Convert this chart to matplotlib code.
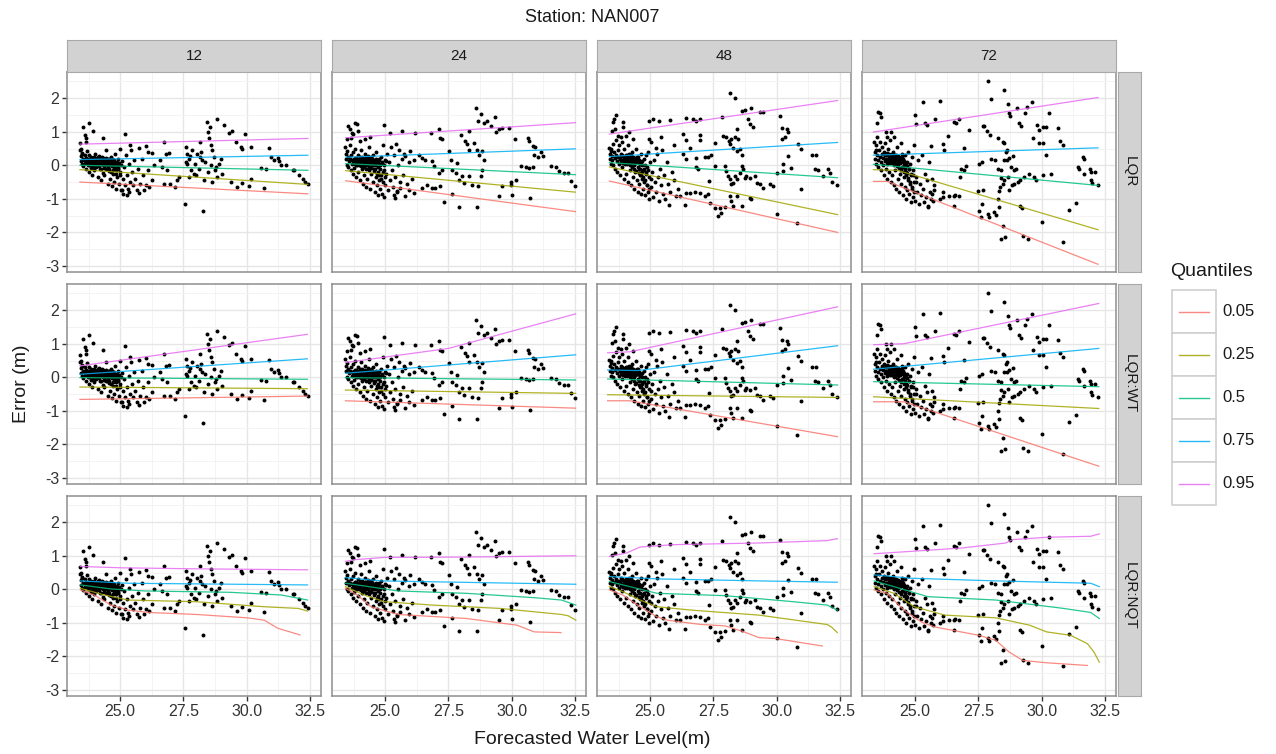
import numpy as np
import matplotlib
matplotlib.use("Agg")
import matplotlib.pyplot as plt
from matplotlib.patches import Rectangle
from matplotlib.ticker import MultipleLocator

plt.rcParams['font.family'] = ['Liberation Sans', 'DejaVu Sans']

# ---------------------------------------------------------------- data
station = "NAN007"
leads = [12, 24, 48, 72]
models = ["LQR", "LQR:WT", "LQR:NQT"]
quantiles = ["0.05", "0.25", "0.5", "0.75", "0.95"]
quantile_colors = ["#F8766D", "#A3A500", "#00BF7D", "#00B0F6", "#E76BF3"]
x_ticks = [25.0, 27.5, 30.0, 32.5]
y_ticks = [-3, -2, -1, 0, 1, 2]

# (forecasted water level, forecast error) for each lead time
points_12 = [
    (23.42, 0.45), (23.44, 0.28), (23.46, 0.12), (23.48, 0.05), (23.5, 0.36), (23.52, 0.2), (23.55, -0.02),
    (23.57, 0.15), (23.6, 0.3), (23.62, 0.08), (23.64, -0.1), (23.66, 0.22), (23.68, 0.42), (23.7, 0.12),
    (23.72, 0.0), (23.74, 0.18), (23.76, -0.2), (23.78, 0.3), (23.8, 0.06), (23.82, 0.15), (23.84, -0.08),
    (23.86, 0.25), (23.88, 0.1), (23.9, -0.3), (23.92, 0.02), (23.94, 0.2), (23.96, 0.12), (23.98, -0.15),
    (24.0, 0.35), (24.02, 0.05), (24.04, 0.16), (24.06, -0.05), (24.08, 0.22), (24.1, 0.1), (24.12, -0.35),
    (24.14, 0.0), (24.16, 0.14), (24.18, 0.28), (24.2, -0.12), (24.22, 0.08), (24.24, 0.18), (24.26, -0.45),
    (24.28, 0.04), (24.3, 0.12), (24.32, -0.22), (24.34, 0.22), (24.36, 0.06), (24.38, -0.3), (24.4, 0.15),
    (24.42, 0.0), (24.44, 0.45), (24.46, -0.1), (24.48, 0.1), (24.5, -0.55), (24.52, 0.2), (24.54, 0.04),
    (24.56, -0.18), (24.58, 0.12), (24.6, -0.4), (24.62, 0.26), (24.64, 0.0), (24.66, -0.62), (24.68, 0.1),
    (24.7, -0.25), (24.72, 0.16), (24.74, -0.05), (24.76, -0.5), (24.78, 0.05), (24.8, 0.35), (24.82, -0.15),
    (24.84, -0.7), (24.86, 0.1), (24.88, -0.35), (24.9, 0.2), (24.92, -0.08), (24.94, -0.55), (24.96, 0.0),
    (24.98, 0.5), (25.0, -0.2), (25.03, -0.75), (25.06, 0.12), (25.1, -0.4), (25.14, -0.05), (25.18, -0.6),
    (25.22, 0.3), (25.26, -0.3), (25.3, -0.7), (25.34, 0.05), (25.38, -0.5), (25.42, 0.45), (25.46, -0.2),
    (25.5, -0.6), (25.55, 0.15), (25.6, -0.4), (25.65, -0.75), (25.7, -0.1), (25.78, -0.55), (25.85, 0.2),
    (25.92, -0.3), (26.0, -0.6), (26.1, -0.15), (26.25, -0.45), (26.35, 0.0),
    (23.71, 0.05), (23.73, 0.14), (23.77, 0.02), (23.79, 0.2), (23.83, 0.08), (23.87, -0.04), (23.91, 0.16),
    (23.93, 0.06), (23.97, 0.24), (24.01, -0.06), (24.03, 0.12), (24.07, 0.02), (24.09, 0.18), (24.11, 0.08),
    (24.13, 0.26), (24.17, -0.02), (24.19, 0.1), (24.21, 0.2), (24.23, -0.1), (24.25, 0.06), (24.27, 0.14),
    (24.29, 0.24), (24.31, 0.0), (24.33, 0.1), (24.35, -0.08), (24.37, 0.18), (24.39, 0.04), (24.41, 0.12),
    (24.43, -0.12), (24.45, 0.22), (24.47, 0.02), (24.49, 0.14), (24.51, -0.04), (24.53, 0.08), (24.55, 0.18),
    (24.57, -0.1), (24.59, 0.04), (24.61, 0.14), (24.63, -0.2), (24.65, 0.08), (24.67, 0.2), (24.69, -0.02),
    (24.71, 0.1), (24.73, -0.15), (24.75, 0.04), (24.77, 0.16), (24.79, -0.08), (24.81, 0.08), (24.83, -0.25),
    (24.87, 0.0), (24.91, -0.12), (24.95, 0.08), (24.99, -0.3), (25.02, 0.02),
    (23.55, 1.15), (23.78, 1.27), (23.92, 1.03), (23.6, 0.9), (23.67, 0.8), (23.65, 0.7), (24.34, 0.82),
    (25.2, 0.92), (23.41, 0.67), (23.44, 0.5), (23.48, 0.35), (25.13, -0.85), (25.26, -0.9), (25.33, -0.8),
    (25.07, -0.75), (25.73, -0.83), (25.93, -0.75), (26.12, -0.65), (25.4, 0.6), (25.73, 0.53), (26.03, 0.57),
    (26.08, 0.4), (26.26, 0.37), (26.59, 0.15), (26.75, 0.7), (26.79, 0.35), (26.92, 0.37), (26.65, -0.05),
    (26.85, -0.15), (26.72, -0.55), (26.98, -0.55), (27.18, -0.65), (27.25, -0.45), (27.31, -0.35),
    (27.54, -1.15), (27.58, 0.55), (27.62, 0.35), (27.71, 0.2), (27.65, 0.05), (27.78, -0.15), (27.84, 0.45),
    (27.91, -0.25), (28.04, 0.35), (28.17, 0.7), (28.24, 0.15), (28.31, -0.45), (28.28, -1.37), (28.41, 1.3),
    (28.47, 1.0), (28.5, 0.8), (28.54, 1.15), (28.57, 0.6), (28.64, 0.45), (28.7, 0.25), (28.73, -0.15),
    (28.77, -0.05), (28.84, 1.37), (28.9, 0.05), (28.97, 0.2), (29.1, 1.2), (28.64, -0.5), (28.84, -0.35),
    (29.03, -0.25), (29.3, 0.95), (29.43, 1.02), (29.56, 0.7), (29.76, 0.55), (29.83, 0.5), (29.93, 0.93),
    (29.39, -0.5), (29.63, -0.65), (29.83, -0.53), (30.09, -0.63), (30.16, 0.55), (30.16, -0.4), (30.56, -0.07),
    (30.69, -0.67), (30.75, -0.1), (30.89, 0.53), (30.95, 0.25), (31.08, 0.17), (31.22, 0.23), (31.28, 0.13),
    (31.35, 0.0), (31.55, 0.0), (31.81, -0.15), (31.88, -0.15), (32.08, -0.3), (32.21, -0.4), (32.31, -0.5),
    (32.41, -0.55), (27.6, 0.1), (27.75, 0.28), (27.95, 0.05), (28.1, -0.1), (28.2, 0.4), (28.35, 0.1),
    (28.0, -0.3), (27.7, -0.35), (28.45, -0.2), (28.6, 0.0), (28.15, 0.25),
]

points_24 = [
    (23.42, 0.55), (23.44, 0.35), (23.46, 0.18), (23.48, 0.02), (23.5, 0.42), (23.52, 0.25), (23.55, -0.05),
    (23.57, 0.12), (23.6, 0.6), (23.62, 0.2), (23.64, -0.15), (23.66, 0.3), (23.68, 0.05), (23.7, 0.15),
    (23.72, -0.25), (23.74, 0.4), (23.76, 0.1), (23.78, -0.08), (23.8, 0.22), (23.82, 0.5), (23.84, 0.0),
    (23.86, -0.35), (23.88, 0.18), (23.9, 0.08), (23.92, 0.3), (23.94, -0.2), (23.96, 0.12), (23.98, 0.02),
    (24.0, -0.45), (24.02, 0.25), (24.04, 0.1), (24.06, 0.45), (24.08, -0.1), (24.1, 0.18), (24.12, -0.55),
    (24.14, 0.05), (24.16, 0.2), (24.18, -0.3), (24.2, 0.12), (24.22, 0.35), (24.24, -0.65), (24.26, 0.0),
    (24.28, 0.15), (24.3, -0.4), (24.32, 0.22), (24.34, 0.08), (24.36, -0.15), (24.38, 0.55), (24.4, -0.7),
    (24.42, 0.12), (24.44, -0.25), (24.46, 0.2), (24.48, 0.02), (24.5, -0.5), (24.52, 0.3), (24.54, -0.1),
    (24.56, 0.14), (24.58, -0.8), (24.6, 0.05), (24.62, -0.35), (24.64, 0.4), (24.66, -0.6), (24.68, 0.1),
    (24.7, -0.2), (24.72, -0.9), (24.74, 0.2), (24.76, -0.45), (24.78, 0.0), (24.8, -0.7), (24.82, 0.25),
    (24.84, -0.3), (24.86, -0.85), (24.88, 0.08), (24.9, -0.5), (24.92, 0.6), (24.94, -0.15), (24.96, -0.95),
    (24.98, 0.15), (25.0, -0.6), (25.03, -0.25), (25.06, 0.35), (25.1, -0.75), (25.14, 0.1), (25.18, -0.45),
    (25.22, 0.55), (25.26, -0.15), (25.3, -0.65), (25.34, 0.3), (25.38, -0.35), (25.42, 0.62), (25.46, -0.8),
    (25.5, 0.0), (25.55, 0.45), (25.6, -0.5), (25.65, 0.2), (25.7, -0.3), (25.75, 0.35), (25.85, -0.55),
    (25.95, 0.1), (26.05, -0.4),
    (23.71, 0.08), (23.75, 0.18), (23.79, 0.04), (23.81, 0.12), (23.85, 0.22), (23.89, 0.0), (23.91, 0.14),
    (23.95, 0.06), (23.99, 0.2), (24.01, 0.1), (24.05, -0.02), (24.07, 0.16), (24.09, 0.26), (24.11, 0.06),
    (24.15, 0.12), (24.17, -0.06), (24.19, 0.22), (24.21, 0.04), (24.23, 0.14), (24.25, -0.12), (24.27, 0.08),
    (24.29, 0.18), (24.31, 0.02), (24.33, 0.28), (24.35, 0.1), (24.37, -0.04), (24.39, 0.16), (24.41, 0.06),
    (24.43, 0.24), (24.45, -0.08), (24.47, 0.12), (24.49, 0.2), (24.51, 0.0), (24.53, 0.1), (24.55, -0.18),
    (24.57, 0.16), (24.59, 0.06), (24.61, -0.1), (24.63, 0.2), (24.65, 0.02), (24.67, -0.25), (24.69, 0.12),
    (24.71, -0.05), (24.73, 0.08), (24.75, -0.3), (24.77, 0.15), (24.79, -0.12), (24.81, 0.04),
    (24.85, -0.4), (24.89, 0.1), (24.93, -0.2), (24.97, 0.02), (25.01, -0.35), (25.04, 0.12),
    (23.55, 1.17), (23.61, 1.07), (23.81, 1.27), (23.88, 1.22), (23.68, 0.97), (23.74, 0.92), (23.94, 1.02),
    (23.65, 0.82), (23.48, 0.77), (24.01, 0.72), (24.21, 0.77), (24.4, 0.84), (24.97, 1.19), (25.2, 0.95),
    (25.66, 1.02), (26.19, 0.97), (26.79, 0.97), (27.12, 1.09), (27.18, 0.82), (27.25, 0.77), (27.98, 0.9),
    (28.31, 1.02), (28.57, 1.72), (28.77, 1.52), (28.68, 1.32), (28.9, 1.27), (29.03, 1.32), (29.17, 1.17),
    (29.34, 1.44), (29.37, 0.99), (29.5, 1.07), (29.63, 1.12), (29.89, 1.12), (28.17, 0.72), (28.24, 0.62),
    (28.31, 0.47), (28.5, 0.67), (28.64, 0.47), (28.7, 0.32), (28.84, 0.42), (28.9, 0.17), (28.84, -0.13),
    (28.77, -0.33), (28.68, -0.63), (28.64, -1.23), (30.13, 0.77), (30.62, 0.82), (30.69, 0.72), (30.82, 0.57),
    (30.93, 0.54), (30.89, 0.32), (31.02, 0.25), (31.16, 0.39), (31.22, 0.29), (30.36, -0.03), (30.56, -0.05),
    (30.69, -0.08), (30.82, -0.06), (31.55, -0.03), (31.75, -0.05), (31.88, -0.18), (32.08, -0.23),
    (32.21, -0.23), (32.34, -0.48), (32.51, -0.61), (29.97, -0.51), (30.16, -0.43), (29.96, -0.58),
    (29.63, -0.63), (29.5, -0.93), (29.99, -0.88), (30.73, -0.98), (27.91, -1.23), (27.31, -1.1),
    (27.62, -0.86), (25.79, 0.27), (25.99, 0.42), (26.12, 0.17), (26.32, 0.32), (26.46, 0.22), (26.59, 0.15),
    (26.85, 0.12), (26.92, -0.03), (27.12, -0.23), (27.25, -0.13), (27.51, 0.42), (27.58, 0.17),
    (27.65, -0.13), (27.78, -0.23), (27.84, 0.07), (27.91, -0.43), (28.04, -0.33), (28.11, -0.53),
    (28.31, -0.33), (28.44, -0.58), (25.93, -0.73), (26.12, -0.83), (26.46, -0.68), (26.65, -0.58),
    (26.85, -0.68), (26.98, -0.68), (27.18, -0.63), (25.79, -0.91), (25.4, -0.98), (25.33, -0.88),
    (25.46, -0.78), (25.6, -0.68),
]

points_48 = [
    (23.4, 0.35), (23.42, 0.2), (23.44, 0.5), (23.46, 0.05), (23.48, 0.28), (23.5, 0.15), (23.52, 0.62),
    (23.55, 0.0), (23.57, 0.4), (23.6, 0.22), (23.62, -0.1), (23.64, 0.3), (23.66, 0.75), (23.68, 0.12),
    (23.7, -0.2), (23.72, 0.45), (23.74, 0.25), (23.76, 0.05), (23.78, 0.6), (23.8, 0.18), (23.82, -0.3),
    (23.84, 0.35), (23.86, 0.1), (23.88, 0.7), (23.9, -0.05), (23.92, 0.28), (23.94, 0.15), (23.96, -0.4),
    (23.98, 0.5), (24.0, 0.2), (24.02, 0.05), (24.04, 0.32), (24.06, -0.25), (24.08, 0.22), (24.1, 0.12),
    (24.12, 0.6), (24.14, -0.5), (24.16, 0.25), (24.18, 0.1), (24.2, -0.15), (24.22, 0.3), (24.24, 0.18),
    (24.26, -0.6), (24.28, 0.08), (24.3, 0.4), (24.32, -0.35), (24.34, 0.2), (24.36, 0.0), (24.38, -0.7),
    (24.4, 0.15), (24.42, -0.2), (24.44, 0.5), (24.46, -0.45), (24.48, 0.1), (24.5, -0.8), (24.52, 0.25),
    (24.54, -0.1), (24.56, -0.55), (24.58, 0.05), (24.6, -0.3), (24.62, 0.35), (24.64, -0.85), (24.66, 0.12),
    (24.68, -0.4), (24.7, -0.15), (24.72, -0.7), (24.74, 0.2), (24.76, -0.5), (24.78, 0.0), (24.8, -0.9),
    (24.82, -0.25), (24.84, 0.3), (24.86, -0.6), (24.88, -0.05), (24.9, -0.8), (24.92, 0.4), (24.94, -0.35),
    (24.96, -1.0), (24.98, 0.1), (25.02, -0.65), (25.06, -0.2), (25.1, -0.95), (25.14, 0.15), (25.18, -0.5),
    (25.22, -0.8), (25.26, 0.35), (25.3, -0.35), (25.34, -1.05), (25.38, -0.1), (25.42, -0.6), (25.46, 0.45),
    (25.5, -0.85), (25.55, -0.3), (25.6, -1.0), (25.65, 0.1), (25.7, -0.55), (25.78, -0.8), (25.85, -0.2),
    (25.95, -0.45),
    (23.81, 0.26), (23.85, 0.16), (23.89, 0.3), (23.93, 0.08), (23.97, 0.22), (24.01, 0.12), (24.03, 0.28),
    (24.05, 0.18), (24.07, 0.04), (24.09, 0.3), (24.11, 0.2), (24.13, 0.1), (24.15, 0.34), (24.17, 0.16),
    (24.19, 0.02), (24.21, 0.24), (24.23, 0.12), (24.25, 0.3), (24.27, -0.04), (24.29, 0.18), (24.31, 0.08),
    (24.33, 0.26), (24.35, 0.14), (24.37, -0.1), (24.39, 0.22), (24.41, 0.06), (24.43, 0.18), (24.45, -0.16),
    (24.47, 0.1), (24.49, 0.24), (24.51, -0.06), (24.53, 0.12), (24.55, -0.22), (24.57, 0.16), (24.59, -0.12),
    (24.61, 0.04), (24.63, -0.3), (24.65, 0.1), (24.67, -0.2), (24.69, 0.0), (24.73, -0.35), (24.77, -0.1),
    (24.81, -0.45), (24.85, -0.2), (24.89, -0.6), (24.93, -0.15), (24.97, -0.7), (25.04, -0.4),
    (23.52, 1.28), (23.65, 1.5), (23.59, 1.38), (23.49, 1.03), (23.63, 1.08), (23.92, 1.28), (23.92, 1.13),
    (23.72, 0.88), (23.85, 0.83), (24.05, 0.88), (24.18, 0.98), (24.31, 0.78), (23.39, 0.53), (23.45, 0.43),
    (24.97, 1.33), (25.11, 1.38), (25.34, 1.33), (25.77, 1.36), (26.43, 1.4), (26.69, 1.38), (26.82, 1.33),
    (26.96, 1.38), (24.97, 0.78), (25.04, 0.68), (25.24, 0.53), (25.44, 0.83), (25.96, 0.6), (26.29, 0.93),
    (26.43, 0.75), (26.96, 0.9), (26.98, 0.75), (26.56, 0.53), (26.28, 0.33), (26.43, 0.2), (26.8, 0.23),
    (27.15, 0.26), (27.29, 0.26), (27.42, 0.3), (27.55, 0.66), (26.82, -0.05), (26.88, -0.12), (27.32, -0.47),
    (27.55, -0.02), (27.85, 1.45), (28.14, 2.16), (28.34, 2.0), (28.61, 1.63), (28.74, 1.66), (29.0, 1.7),
    (28.87, 1.38), (28.94, 1.23), (29.07, 1.13), (29.33, 1.58), (29.47, 1.58), (27.88, 0.88), (28.01, 0.83),
    (28.12, 0.73), (28.21, 0.78), (28.34, 0.83), (28.41, 1.08), (28.47, 0.78), (28.14, 0.63), (28.28, 0.53),
    (28.54, 0.48), (28.61, 0.3), (28.41, 0.43), (27.95, -0.02), (28.01, -0.17), (28.08, -0.32), (28.14, -0.42),
    (28.21, -0.57), (28.28, -0.52), (28.34, -0.32), (28.41, -0.42), (28.54, -0.22), (28.61, -0.02),
    (28.67, -0.12), (28.74, -0.37), (28.8, -0.32), (28.94, -0.37), (29.13, -0.32), (29.2, -0.52),
    (29.33, -0.57), (29.47, -0.67), (29.73, -0.57), (29.86, -0.62), (28.14, -0.92), (28.21, -1.07),
    (28.28, -1.22), (28.41, -0.92), (28.94, -0.97), (29.0, -1.0), (28.61, -1.22), (27.75, -1.27),
    (27.69, -1.52), (27.81, -1.42), (27.95, -1.24), (27.35, -1.12), (27.55, -1.27), (26.1, -0.7),
    (26.16, -0.92), (26.03, -0.92), (26.43, -0.84), (26.56, -0.82), (26.76, -0.8), (26.96, -0.82),
    (27.15, -0.92), (27.29, -0.87), (26.36, -1.17), (25.73, -1.17), (30.13, 1.48), (30.2, 1.1), (30.39, 1.08),
    (30.46, 1.0), (30.2, 0.78), (30.33, 0.83), (30.85, 0.63), (30.94, 0.48), (30.46, 0.28), (30.26, 0.03),
    (30.56, -0.07), (30.26, -0.17), (30.0, -0.24), (30.0, -1.45), (30.81, -1.72), (30.94, -0.72), (31.38, 0.3),
    (31.55, 0.3), (31.51, -0.12), (31.64, -0.15), (31.84, -0.32), (32.04, -0.12), (32.11, -0.22),
    (32.17, -0.5), (32.37, -0.6),
]

points_72 = [
    (23.4, 0.4), (23.42, 0.2), (23.44, 0.6), (23.46, 0.05), (23.48, 0.3), (23.5, 0.85), (23.52, 0.15),
    (23.55, -0.05), (23.57, 0.45), (23.6, 0.25), (23.62, 0.7), (23.64, 0.1), (23.66, -0.15), (23.68, 0.35),
    (23.7, 0.55), (23.72, 0.0), (23.74, 0.22), (23.76, -0.3), (23.78, 0.4), (23.8, 0.12), (23.82, 0.65),
    (23.84, -0.1), (23.86, 0.3), (23.88, 0.05), (23.9, -0.4), (23.92, 0.5), (23.94, 0.18), (23.96, -0.2),
    (23.98, 0.35), (24.0, 0.08), (24.02, 0.75), (24.04, -0.5), (24.06, 0.25), (24.08, 0.1), (24.1, -0.3),
    (24.12, 0.4), (24.14, 0.15), (24.16, -0.6), (24.18, 0.0), (24.2, 0.3), (24.22, -0.15), (24.24, 0.2),
    (24.26, -0.7), (24.28, 0.1), (24.3, 0.55), (24.32, -0.4), (24.34, 0.05), (24.36, -0.8), (24.38, 0.25),
    (24.4, -0.25), (24.42, 0.15), (24.44, -0.55), (24.46, 0.35), (24.48, -0.05), (24.5, -0.9), (24.52, 0.2),
    (24.54, -0.35), (24.56, 0.0), (24.58, -0.65), (24.6, 0.3), (24.62, -1.0), (24.64, -0.2), (24.66, 0.1),
    (24.68, -0.75), (24.7, -0.45), (24.72, 0.4), (24.74, -0.1), (24.76, -0.85), (24.78, 0.05), (24.8, -0.55),
    (24.82, -1.1), (24.84, -0.3), (24.86, 0.25), (24.88, -0.7), (24.9, -0.95), (24.92, -0.15), (24.94, -0.5),
    (24.96, 0.6), (24.98, -1.05), (25.02, -0.35), (25.06, -0.8), (25.1, 0.15), (25.14, -1.15), (25.18, -0.55),
    (25.22, -0.9), (25.26, 0.3), (25.3, -0.7), (25.34, -1.1), (25.38, -0.25), (25.42, -0.95), (25.46, -0.45),
    (25.5, -1.2), (25.55, 0.1), (25.6, -0.8), (25.65, -0.4), (25.7, -1.05), (25.75, -0.6),
    (23.81, 0.3), (23.85, 0.2), (23.89, 0.36), (23.93, 0.12), (23.97, 0.26), (24.01, 0.16), (24.03, 0.32),
    (24.05, 0.22), (24.07, 0.06), (24.09, 0.34), (24.11, 0.24), (24.13, 0.12), (24.15, 0.3), (24.17, 0.18),
    (24.19, 0.04), (24.21, 0.26), (24.23, 0.14), (24.25, 0.32), (24.27, -0.02), (24.29, 0.2), (24.31, 0.1),
    (24.33, 0.28), (24.35, 0.16), (24.37, -0.08), (24.39, 0.22), (24.41, 0.08), (24.43, 0.2), (24.45, -0.14),
    (24.47, 0.12), (24.49, 0.26), (24.51, -0.04), (24.53, 0.1), (24.55, -0.2), (24.57, 0.14), (24.59, -0.1),
    (24.61, 0.02), (24.63, -0.3), (24.65, 0.08), (24.67, -0.22), (24.69, -0.02), (24.73, -0.38),
    (24.77, -0.12), (24.81, -0.5), (24.85, -0.25), (24.89, -0.65), (24.93, -0.3), (24.97, -0.8), (25.04, -0.5),
    (27.86, 2.5), (27.99, 1.97), (28.52, 2.23), (28.65, 1.82), (28.72, 1.57), (28.76, 1.47), (29.01, 1.72),
    (29.35, 1.55), (29.42, 1.75), (29.6, 1.88), (30.3, 1.55), (25.29, 1.88), (25.99, 1.92), (24.99, 1.5),
    (25.03, 1.23), (25.4, 1.27), (25.46, 1.2), (25.79, 1.38), (26.52, 1.28), (26.61, 1.25), (26.74, 1.37),
    (27.14, 1.05), (27.66, 1.17), (27.73, 1.17), (27.84, 1.02), (27.96, 0.9), (28.26, 0.8), (28.46, 0.7),
    (28.52, 0.65), (28.63, 0.45), (28.59, 0.4), (29.08, 1.25), (29.16, 1.17), (29.64, 0.8), (29.82, 1.2),
    (29.88, 1.05), (30.04, 1.15), (30.17, 1.15), (29.9, 0.67), (30.06, 0.67), (30.17, 0.3), (30.63, 1.1),
    (30.7, 0.72), (30.83, 0.6), (23.55, 1.6), (23.61, 1.55), (23.51, 1.25), (23.67, 1.45), (23.84, 1.0),
    (24.04, 1.0), (23.9, 0.85), (23.38, 0.7), (23.44, 0.45), (24.17, 0.85), (24.43, 0.67), (25.62, 0.57),
    (26.08, 0.63), (26.12, 0.45), (26.28, 0.87), (26.94, 0.53), (26.81, -0.12), (26.78, -0.35), (27.01, -0.02),
    (26.94, -0.15), (27.51, 0.03), (27.64, 0.1), (28.0, 0.2), (28.15, 0.15), (28.26, -0.1), (28.39, -0.15),
    (28.52, 0.17), (28.63, 0.17), (28.72, 0.23), (28.85, 0.27), (28.79, -0.05), (28.92, -0.15), (28.98, -0.1),
    (28.39, -0.37), (28.52, -0.45), (28.46, -0.57), (28.36, -0.65), (28.3, -0.77), (28.26, -1.0),
    (28.65, -0.35), (28.72, -0.75), (28.81, -0.6), (28.92, -0.55), (29.05, -0.5), (29.12, -0.45),
    (29.31, -0.35), (29.51, -0.25), (29.71, -0.35), (29.77, -0.45), (30.04, -0.3), (30.37, -0.27),
    (27.49, -0.77), (27.66, -0.73), (27.53, -1.35), (27.6, -1.55), (27.64, -1.15), (27.86, -1.45),
    (27.9, -1.55), (28.13, -1.4), (28.19, -1.48), (28.32, -1.23), (28.46, -1.8), (28.39, -2.2), (28.56, -2.13),
    (29.12, -1.2), (29.21, -1.28), (29.25, -2.12), (29.45, -2.2), (30.0, -1.7), (30.83, -2.3), (31.07, -1.33),
    (31.36, -1.13), (26.54, -0.93), (26.54, -1.2), (26.58, -0.9), (26.74, -0.92), (26.35, -0.93),
    (26.08, -0.95), (25.99, -1.0), (25.62, -1.0), (25.49, -1.25), (25.65, -0.85), (25.75, -0.75),
    (26.08, -0.8), (31.62, 0.25), (31.66, 0.2), (31.42, -0.05), (31.45, -0.12), (31.66, -0.25), (31.89, -0.1),
    (31.93, -0.2), (32.09, -0.2), (31.96, -0.45), (31.98, -0.52), (32.22, -0.6),
]

points_by_lead = {12: points_12, 24: points_24, 48: points_48, 72: points_72}

# Fitted quantile curves: per lead, one polyline per quantile (0.05 ... 0.95)
lqr_curves = {
    12: [[(23.41, -0.50), (32.41, -0.85)], [(23.41, -0.13), (32.41, -0.57)], [(23.41, 0.00), (32.41, -0.15)],
         [(23.41, 0.17), (32.41, 0.30)], [(23.41, 0.63), (32.41, 0.80)]],
    24: [[(23.44, -0.46), (32.51, -1.38)], [(23.44, -0.16), (32.51, -0.80)], [(23.44, 0.05), (32.51, -0.28)],
         [(23.44, 0.24), (32.51, 0.49)], [(23.44, 0.82), (32.51, 1.27)]],
    48: [[(23.39, -0.47), (32.40, -2.00)], [(23.39, -0.05), (32.40, -1.47)], [(23.39, 0.08), (32.40, -0.37)],
         [(23.39, 0.26), (32.40, 0.68)], [(23.39, 0.93), (32.40, 1.93)]],
    72: [[(23.35, -0.48), (23.90, -0.48), (32.22, -2.95)], [(23.35, -0.13), (24.30, -0.15), (32.22, -1.92)],
         [(23.35, 0.03), (32.22, -0.60)], [(23.35, 0.30), (32.22, 0.52)], [(23.35, 0.99), (32.22, 2.02)]],
}

lqr_wt_curves = {
    12: [[(23.41, -0.66), (32.39, -0.56)], [(23.41, -0.29), (32.39, -0.34)], [(23.41, -0.01), (32.39, -0.06)],
         [(23.41, 0.09), (32.39, 0.55)], [(23.41, 0.34), (32.39, 1.28)]],
    24: [[(23.43, -0.70), (32.52, -0.92)], [(23.43, -0.38), (32.52, -0.48)], [(23.43, -0.01), (32.52, -0.08)],
         [(23.43, 0.12), (32.52, 0.67)], [(23.43, 0.44), (27.50, 0.86), (32.52, 1.89)]],
    48: [[(23.32, -0.70), (24.20, -0.70), (32.40, -1.77)], [(23.32, -0.52), (32.40, -0.60)],
         [(23.32, -0.05), (32.40, -0.23)], [(23.32, 0.22), (24.50, 0.20), (32.40, 0.94)],
         [(23.32, 0.73), (24.20, 0.76), (32.40, 2.10)]],
    72: [[(23.36, -0.73), (24.56, -0.73), (32.25, -2.65)], [(23.36, -0.58), (32.25, -0.93)],
         [(23.36, -0.13), (32.25, -0.28)], [(23.36, 0.24), (32.25, 0.86)],
         [(23.36, 0.97), (24.56, 1.00), (32.25, 2.20)]],
}

lqr_nqt_curves = {
    12: [[(23.43, -0.02), (23.97, -0.17), (24.64, -0.47), (25.31, -0.62), (26.11, -0.69), (28.0, -0.75),
          (30.01, -0.85), (30.69, -0.92), (31.22, -1.16), (32.1, -1.36)],
         [(23.43, 0.03), (24.37, -0.17), (25.31, -0.32), (28.0, -0.37), (30.69, -0.52), (32.03, -0.57),
          (32.4, -0.65)],
         [(23.43, 0.13), (24.64, 0.01), (25.98, -0.05), (29.34, -0.09), (31.36, -0.17), (32.4, -0.32)],
         [(23.43, 0.25), (25.31, 0.18), (32.4, 0.13)],
         [(23.43, 0.68), (25.04, 0.64), (27.99, 0.61), (32.4, 0.58)]],
    24: [[(23.43, 0.03), (23.9, -0.17), (24.44, -0.52), (25.51, -0.75), (28.2, -0.87), (30.21, -1.07),
          (30.89, -1.27), (31.94, -1.29)],
         [(23.43, 0.08), (24.17, -0.17), (24.97, -0.37), (26.85, -0.47), (29.54, -0.57), (31.96, -0.75),
          (32.23, -0.79), (32.53, -0.92)],
         [(23.43, 0.18), (24.17, 0.10), (25.51, -0.05), (28.2, -0.12), (30.89, -0.25), (31.96, -0.32),
          (32.53, -0.47)],
         [(23.43, 0.35), (24.84, 0.25), (32.53, 0.15)],
         [(23.43, 0.83), (23.76, 0.88), (24.97, 0.95), (28.2, 0.96), (32.53, 1.0)]],
    48: [[(23.39, -0.02), (23.92, -0.17), (24.6, -0.52), (25.27, -0.82), (25.67, -0.92), (27.02, -1.05),
          (27.96, -1.09), (28.63, -1.25), (29.3, -1.44), (29.97, -1.47), (31.8, -1.69)],
         [(23.39, 0.08), (23.92, -0.07), (24.6, -0.32), (25.27, -0.52), (26.61, -0.62), (29.3, -0.77),
          (31.99, -1.05), (32.15, -1.12), (32.39, -1.29)],
         [(23.39, 0.23), (24.19, 0.08), (25.27, -0.12), (27.96, -0.19), (30.65, -0.37), (31.99, -0.47),
          (32.39, -0.62)],
         [(23.39, 0.38), (25.27, 0.31), (29.3, 0.25), (32.39, 0.21)],
         [(23.39, 0.98), (24.06, 1.08), (24.6, 1.26), (25.94, 1.33), (29.3, 1.38), (31.99, 1.45), (32.39, 1.51)]],
    72: [[(23.38, -0.02), (23.89, -0.12), (24.56, -0.62), (25.23, -0.97), (25.76, -1.12), (27.51, -1.37),
          (28.18, -1.52), (28.71, -1.87), (29.25, -2.12), (30.19, -2.19), (31.8, -2.27)],
         [(23.38, 0.08), (24.16, -0.12), (24.96, -0.52), (26.17, -0.77), (28.18, -0.85), (29.52, -1.07),
          (30.19, -1.27), (31.13, -1.37), (31.8, -1.62), (32.06, -1.87), (32.27, -2.17)],
         [(23.38, 0.25), (24.16, 0.08), (25.5, -0.22), (28.18, -0.32), (30.86, -0.57), (31.93, -0.69),
          (32.27, -0.87)],
         [(23.38, 0.43), (24.83, 0.33), (28.18, 0.25), (31.93, 0.18), (32.27, 0.08)],
         [(23.38, 1.06), (24.83, 1.13), (26.84, 1.23), (28.58, 1.38), (28.85, 1.48), (30.19, 1.55),
          (31.93, 1.58), (32.27, 1.65)]],
}

curves_by_model = {"LQR": lqr_curves, "LQR:WT": lqr_wt_curves, "LQR:NQT": lqr_nqt_curves}

# ---------------------------------------------------------------- layout
W, H = 1276, 754
fig = plt.figure(figsize=(W / 100, H / 100), dpi=100)
fig.patch.set_facecolor("white")


def px_axes(left, top, width, height):
    return fig.add_axes([left / W, 1 - (top + height) / H, width / W, height / H])


col_left = [67, 332, 597, 862]
row_top = [72, 284, 496]
pw, ph = 254, 200
strip_top, strip_h = 40, 32
rstrip_left, rstrip_w = 1118, 23

border_col = "#8E8E8E"
strip_fill = "#D2D2D2"
strip_edge = "#A8A8A8"
text_col = "#1A1A1A"
tick_col = "#333333"

for r, model in enumerate(models):
    for c, lead in enumerate(leads):
        ax = px_axes(col_left[c], row_top[r], pw, ph)
        ax.set_xlim(22.9, 32.93)
        ax.set_ylim(-3.18, 2.78)
        ax.set_xticks(x_ticks)
        ax.set_yticks(y_ticks)
        ax.xaxis.set_minor_locator(MultipleLocator(1.25))
        ax.yaxis.set_minor_locator(MultipleLocator(0.5))
        ax.set_axisbelow(True)
        ax.grid(which="major", color="#E6E6E6", lw=1.0)
        ax.grid(which="minor", color="#F3F3F3", lw=0.7)
        for sp in ax.spines.values():
            sp.set_color(border_col)
            sp.set_linewidth(1.1)
        ax.tick_params(which="minor", length=0)
        ax.tick_params(which="major", length=3.5, width=1.0, color=tick_col,
                       labelsize=11.5, labelcolor=tick_col, pad=2)
        ax.set_xticklabels([f"{v:.1f}" for v in x_ticks])
        ax.set_yticklabels([str(v) for v in y_ticks])
        if c > 0:
            ax.tick_params(left=False, labelleft=False)
        if r < 2:
            ax.tick_params(bottom=False, labelbottom=False)

        pts = np.array(points_by_lead[lead])
        ax.scatter(pts[:, 0], pts[:, 1], s=8, c="black", linewidths=0, zorder=2)

        for q, curve in enumerate(curves_by_model[model][lead]):
            xy = np.array(curve)
            ax.plot(xy[:, 0], xy[:, 1], color=quantile_colors[q], lw=0.9, alpha=0.85, zorder=3)

# column strips
for c, lead in enumerate(leads):
    s = px_axes(col_left[c], strip_top, pw, strip_h)
    s.set_facecolor(strip_fill)
    s.set_xticks([])
    s.set_yticks([])
    for sp in s.spines.values():
        sp.set_color(strip_edge)
    s.text(0.5, 0.5, str(lead), ha="center", va="center", fontsize=11, color=text_col,
           transform=s.transAxes)

# row strips
for r, model in enumerate(models):
    s = px_axes(rstrip_left, row_top[r], rstrip_w, ph)
    s.set_facecolor(strip_fill)
    s.set_xticks([])
    s.set_yticks([])
    for sp in s.spines.values():
        sp.set_color(strip_edge)
    s.text(0.5, 0.5, model, ha="center", va="center", rotation=-90, fontsize=11, color=text_col,
           transform=s.transAxes)

# titles
fig.text(592 / W, 1 - 18 / H, f"Station: {station}", ha="center", va="center", fontsize=13, color=text_col)
fig.text(22 / W, 1 - 384 / H, "Error (m)", ha="center", va="center", rotation=90, fontsize=14, color=text_col)
fig.text(592 / W, 1 - 740 / H, "Forecasted Water Level(m)", ha="center", va="center", fontsize=14,
         color=text_col)

# legend
leg = fig.add_axes([0, 0, 1, 1])
leg.set_xlim(0, W)
leg.set_ylim(H, 0)
leg.axis("off")
leg.patch.set_alpha(0)
leg.text(1170, 272, "Quantiles", ha="left", va="center", fontsize=14, color=text_col)
key_top, key_h, key_w, key_left = 290, 43, 44, 1172
for i, (lab, col) in enumerate(zip(quantiles, quantile_colors)):
    y0 = key_top + i * key_h
    leg.add_patch(Rectangle((key_left, y0), key_w, key_h, facecolor="white", edgecolor="#CFCFCF", lw=1.2))
    leg.plot([key_left + 7, key_left + key_w - 7], [y0 + key_h / 2] * 2, color=col, lw=1.0, alpha=0.85)
    leg.text(key_left + key_w + 6, y0 + key_h / 2, lab, ha="left", va="center", fontsize=12, color=text_col)

fig.savefig("out.png", dpi=100)
